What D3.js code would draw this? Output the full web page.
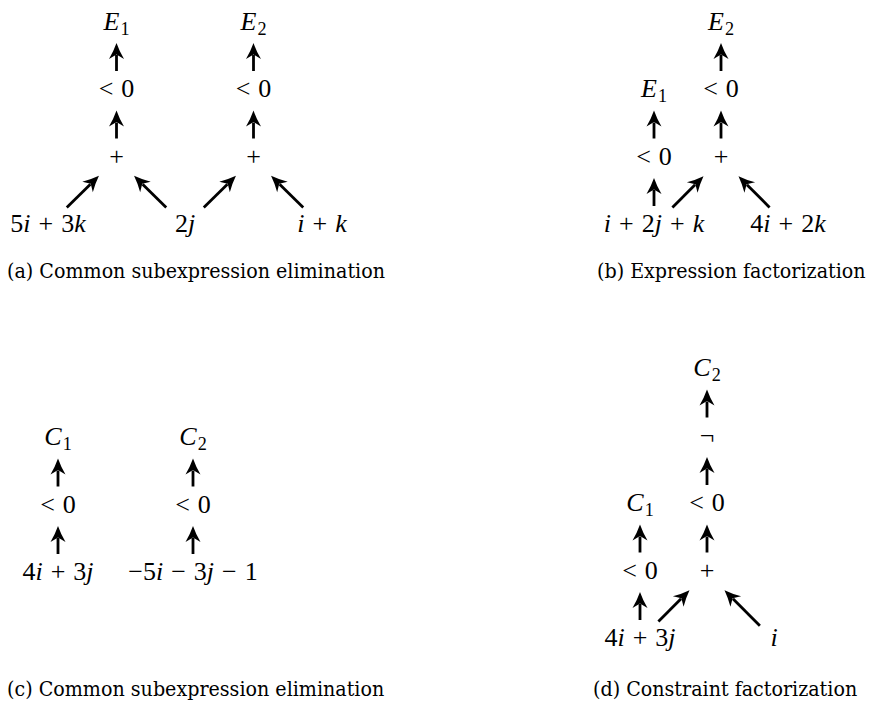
<!DOCTYPE html>
<html>
<head>
<meta charset="utf-8">
<script src="https://cdn.jsdelivr.net/npm/d3@7"></script>
<style>
  body { margin: 0; background: #fff; }
</style>
</head>
<body>
<div id="chart"></div>
<script>
// sub-figure captions
const captions = [
    "(a) Common subexpression elimination",
    "(b) Expression factorization",
    "(c) Common subexpression elimination",
    "(d) Constraint factorization"
];

// nodes: [label, column, level]   ("_" starts a subscript)
const nodesA = [
    ["5i + 3k", 0, 0], ["2j", 2, 0], ["i + k", 4, 0],
    ["+", 1, 1], ["+", 3, 1],
    ["< 0", 1, 2], ["< 0", 3, 2],
    ["E_1", 1, 3], ["E_2", 3, 3]
];
const edgesA = [[0, 3], [1, 3], [1, 4], [2, 4], [3, 5], [4, 6], [5, 7], [6, 8]];

const nodesB = [
    ["i + 2j + k", 0, 0], ["4i + 2k", 2, 0],
    ["< 0", 0, 1], ["+", 1, 1],
    ["E_1", 0, 2], ["< 0", 1, 2],
    ["E_2", 1, 3]
];
const edgesB = [[0, 2], [0, 3], [1, 3], [2, 4], [3, 5], [5, 6]];

const nodesC = [
    ["4i + 3j", 0, 0], ["\u22125i \u2212 3j \u2212 1", 2, 0],
    ["< 0", 0, 1], ["< 0", 2, 1],
    ["C_1", 0, 2], ["C_2", 2, 2]
];
const edgesC = [[0, 2], [1, 3], [2, 4], [3, 5]];

const nodesD = [
    ["4i + 3j", 0, 0], ["i", 2, 0],
    ["< 0", 0, 1], ["+", 1, 1],
    ["C_1", 0, 2], ["< 0", 1, 2],
    ["\u00ac", 1, 3],
    ["C_2", 1, 4]
];
const edgesD = [[0, 2], [0, 3], [1, 3], [2, 4], [3, 5], [5, 6], [6, 7]];

var width = 870, height = 707;

var svg = d3.select('#chart')
    .append('svg')
    .attr('width', width)
    .attr('height', height)
    .style('background', '#fff');

// arrow head, notch at x=4.5, tip at x=16
svg.append('defs').append('marker')
    .attr('id', 'head')
    .attr('markerUnits', 'userSpaceOnUse')
    .attr('viewBox', '-1 -9 18 18')
    .attr('markerWidth', 18)
    .attr('markerHeight', 18)
    .attr('refX', 4)
    .attr('refY', 0)
    .attr('orient', 'auto')
  .append('path')
    .attr('d', 'M16,0 Q8,-2.8 0,-7.5 L4.5,0 L0,7.5 Q8,2.8 16,0Z')
    .attr('fill', '#000');

var mathFont = '"Liberation Serif", "Times New Roman", serif';
var mathSize = 26;

function drawLabel(g, label, x, y) {
    var t = g.append('text')
        .attr('x', x)
        .attr('y', y)
        .attr('text-anchor', 'middle')
        .style('font-family', mathFont)
        .style('font-size', mathSize + 'px')
        .attr('fill', '#000');
    var parts = label.split('_');
    var gap = 0;
    for (const ch of parts[0]) {
        if (ch === ' ') { gap += 8; continue; }
        t.append('tspan')
            .attr('dx', gap)
            .style('font-style', /[a-zA-Z]/.test(ch) ? 'italic' : 'normal')
            .text(ch);
        gap = 0;
    }
    if (parts[1]) {
        t.append('tspan')
            .attr('dx', 1)
            .attr('dy', 5)
            .style('font-size', (mathSize * 0.7) + 'px')
            .text(parts[1]);
    }
    return t;
}

function drawPanel(nodes, edges, x0, colStep, y0) {
    var g = svg.append('g');
    let xScale = d3.scaleLinear().domain([0, 1]).range([x0, x0 + colStep]);
    let yScale = d3.scaleLinear().domain([0, 1]).range([y0, y0 - 67.5]);

    // labels first so their widths are known
    var boxes = nodes.map(function(n) {
        var t = drawLabel(g, n[0], xScale(n[1]), yScale(n[2]));
        var w = t.node().getBBox().width;
        return { x: xScale(n[1]), y: yScale(n[2]) - 6, w: w / 2 + 7, h: 15 };
    });

    // distance from a box centre to its border along direction u
    function border(b, ux, uy) {
        var tx = Math.abs(ux) > 1e-6 ? b.w / Math.abs(ux) : Infinity;
        var ty = Math.abs(uy) > 1e-6 ? b.h / Math.abs(uy) : Infinity;
        return Math.min(tx, ty) + 5;
    }

    g.selectAll('line')
        .data(edges)
        .enter()
        .append('line')
        .each(function(e) {
            var s = boxes[e[0]], t = boxes[e[1]];
            var dx = t.x - s.x, dy = t.y - s.y;
            var len = Math.sqrt(dx * dx + dy * dy);
            var ux = dx / len, uy = dy / len;
            var a = border(s, ux, uy);
            var b = border(t, ux, uy) + 11.5; // tip sits ahead of the notch
            d3.select(this)
                .attr('x1', s.x + ux * a)
                .attr('y1', s.y + uy * a)
                .attr('x2', t.x - ux * b)
                .attr('y2', t.y - uy * b);
        })
        .attr('stroke', '#000')
        .attr('stroke-width', 2.8)
        .attr('marker-end', 'url(#head)');
}

drawPanel(nodesA, edgesA, 48, 68.5, 232);
drawPanel(nodesB, edgesB, 654, 67, 232);
drawPanel(nodesC, edgesC, 58, 67.5, 580);
drawPanel(nodesD, edgesD, 640, 67, 646);

// captions, font size fitted to the width of caption (a)
var capX = [7, 597, 7, 593];
var capY = [278, 278, 696, 696];
var capFont = '"DejaVu Serif Condensed", "DejaVu Serif", serif';

var probe = svg.append('text')
    .style('font-family', capFont)
    .style('font-stretch', 'condensed')
    .style('font-size', '20px')
    .text(captions[0]);
var capSize = 20 * 378 / probe.node().getComputedTextLength();
probe.remove();

svg.selectAll('text.caption')
    .data(captions)
    .enter()
    .append('text')
    .attr('class', 'caption')
    .attr('x', (d, i) => capX[i])
    .attr('y', (d, i) => capY[i])
    .style('font-family', capFont)
    .style('font-stretch', 'condensed')
    .style('font-size', capSize + 'px')
    .attr('fill', '#000')
    .text(d => d);
</script>
</body>
</html>
